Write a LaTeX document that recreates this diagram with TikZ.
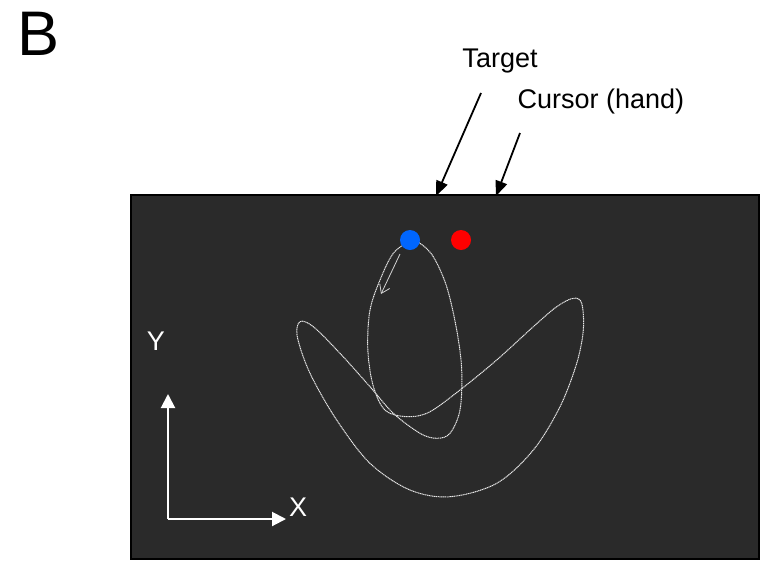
\documentclass[tikz,border=0pt]{standalone}
\usepackage{fontspec}
\setmainfont{Liberation Sans}
\usetikzlibrary{arrows.meta}
\definecolor{panel}{HTML}{2A2A2A}
\definecolor{tgtblue}{HTML}{0066FF}
\definecolor{trace}{HTML}{E8E8E8}
\tikzset{
  lbl/.style={inner sep=0pt, anchor=base, font=\fontsize{27}{31}\selectfont},
  pointer/.style={line width=1.8pt, -{Triangle[length=15pt,width=12pt]}},
  axis/.style={white, line width=2pt, -{Triangle[length=14pt,width=14pt]}},
  dotmark/.style={circle, inner sep=0pt, minimum size=20pt},
  path trace/.style={trace, line width=1pt, dash pattern=on 1.2pt off 0.6pt},
}
\begin{document}
\begin{tikzpicture}[x=1pt,y=-1pt]
\useasboundingbox (0,0) rectangle (767,560);
\fill[white] (0,0) rectangle (767,560);
% panel
\draw[fill=panel, draw=black, line width=1.5pt] (131,195) rectangle (759,559);
% panel label
\node[inner sep=0pt, anchor=base, font=\fontsize{63}{66}\selectfont] (B) at (39,55) {B};
% labels
\node[lbl] (tgt) at (500,67.7) {Target};
\node[lbl] (cur) at (601,108) {Cursor (hand)};
\coordinate (tgtS) at (481,93);
\coordinate (tgtE) at (436,196);
\coordinate (curS) at (520,133);
\coordinate (curE) at (496,196);
\draw[pointer] (tgtS) -- (tgtE);
\draw[pointer] (curS) -- (curE);
% trajectory
\draw[path trace] plot[smooth cycle, tension=0.55] coordinates {
(410,241.7) (393.3,253.3) (380,280) (370,310) (367.7,346.7) (371.7,380)
(380,403.3) (390,413.3) (410,416.7) (430,411.7) (460,390) (496.7,360)
(533.3,326.7) (556.7,306.7) (573.3,298.3) (581.7,303.3) (583.3,330)
(576.7,363.3) (560,406.7) (533.3,450) (496.7,483.3) (450,496.7) (410,490)
(370,463.3) (336.7,420) (310,373.3) (297.3,336.7) (300,321.7) (313.3,326.7)
(340,353.3) (370,386.7) (393.3,413.3) (420,433.3) (436.7,438.3) (450,433.3)
(460,410) (461.7,370) (456.7,330) (446.7,286.7) (433.3,256.7) (420,243.3)};
% dots
\node[dotmark, fill=tgtblue] (blue) at (410,240) {};
\node[dotmark, fill=red] (reddot) at (461,240) {};
% small direction arrow
\coordinate (dirS) at (400,254);
\coordinate (dirE) at (381,294);
\draw[trace!80!gray, line width=0.8pt, -{Straight Barb[length=8pt,width=11pt]}] (dirS) -- (dirE);
% axes
\coordinate (orig) at (168,519);
\coordinate (yEnd) at (168,394);
\coordinate (xEnd) at (286,519);
\draw[axis] (orig) -- (yEnd);
\draw[axis] (orig) -- (xEnd);
\node[lbl, text=white] (ylbl) at (156,350) {Y};
\node[lbl, text=white] (xlbl) at (298,516.7) {X};
\end{tikzpicture}
\end{document}
